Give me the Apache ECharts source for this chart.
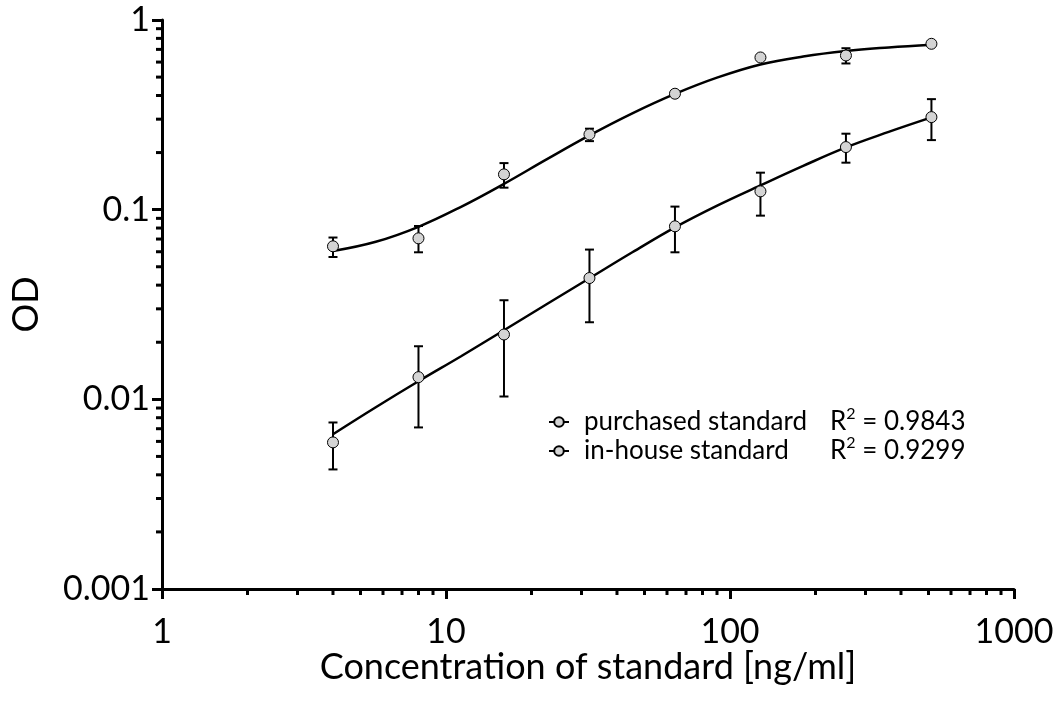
<!DOCTYPE html>
<html><head><meta charset="utf-8">
<script src="https://cdn.jsdelivr.net/npm/echarts@6/dist/echarts.min.js"></script>
<style>html,body{margin:0;padding:0;background:#fff}#c{width:1059px;height:706px}</style>
</head><body><div id="c"></div>
<script>
// ---- data ----
const concentrations = [4, 8, 16, 32, 64, 128, 256, 512];
const purchasedMean = [0.0641, 0.0706, 0.1535, 0.2493, 0.4086, 0.6345, 0.650, 0.749];
const purchasedLow  = [0.0563, 0.0596, 0.1306, 0.2298, 0.4000, 0.6200, 0.590, 0.740];
const purchasedHigh = [0.0713, 0.0820, 0.1760, 0.2673, 0.4150, 0.6450, 0.710, 0.758];
const inhouseMean = [0.00593, 0.01309, 0.02197, 0.0436, 0.0817, 0.1249, 0.2138, 0.3076];
const inhouseLow  = [0.00427, 0.00711, 0.01035, 0.02549, 0.0596, 0.0930, 0.1769, 0.2327];
const inhouseHigh = [0.00755, 0.01905, 0.0333, 0.0616, 0.1038, 0.1567, 0.2515, 0.3826];
const curveX = [4, 5.66, 8, 11.3, 16, 22.6, 32, 45.3, 64, 90.5, 128, 181, 256, 362, 512];
const purchasedFit = [0.0605, 0.0677, 0.0812, 0.1035, 0.1368, 0.1841, 0.2463, 0.3218, 0.4075, 0.4979, 0.5827, 0.6422, 0.6866, 0.7164, 0.7403];
const inhouseFit = [0.00655, 0.00909, 0.01246, 0.01688, 0.02313, 0.03171, 0.04348, 0.0596, 0.0807, 0.1054, 0.1343, 0.1702, 0.2130, 0.2570, 0.3064];
const seriesNames = ['purchased standard', 'in-house standard'];
const r2Values = ['0.9843', '0.9299'];
const xTickLabels = {1: '1', 10: '10', 100: '100', 1000: '1000'};
const yTickLabels = {0.001: '0.001', 0.01: '0.01', 0.1: '0.1', 1: '1'};
const xMinorTicks = [2,3,4,5,6,7,8,9,20,30,40,50,60,70,80,90,200,300,400,500,600,700,800,900];
const yMinorTicks = [0.002,0.003,0.004,0.005,0.006,0.007,0.008,0.009,0.02,0.03,0.04,0.05,0.06,0.07,0.08,0.09,0.2,0.3,0.4,0.5,0.6,0.7,0.8,0.9];
const xTitle = 'Concentration of standard [ng/ml]';
const yTitle = 'OD';

// ---- build ----
const FONT = 'Lato';
const zip = (a, b) => a.map((v, i) => [v, b[i]]);
const errData = (low, high) => concentrations.map((x, i) => [x, low[i], high[i]]);
const pointFill = '#d4d4d4';

function errorBarRender(params, api) {
  const x = api.value(0);
  const lo = api.coord([x, api.value(1)]);
  const hi = api.coord([x, api.value(2)]);
  const w = 4.5;
  const style = {stroke: '#000', lineWidth: 2, fill: null};
  return {type: 'group', children: [
    {type: 'line', shape: {x1: lo[0], y1: lo[1], x2: hi[0], y2: hi[1]}, style},
    {type: 'line', shape: {x1: lo[0]-w, y1: lo[1], x2: lo[0]+w, y2: lo[1]}, style},
    {type: 'line', shape: {x1: hi[0]-w, y1: hi[1], x2: hi[0]+w, y2: hi[1]}, style}
  ]};
}

const chart = echarts.init(document.getElementById('c'), null, {renderer: 'canvas'});
const option = {
  backgroundColor: '#fff',
  animation: false,
  grid: {left: 162, right: 45, top: 20, bottom: 117, containLabel: false},
  xAxis: {
    type: 'log', logBase: 10, min: 1, max: 1000,
    name: xTitle, nameLocation: 'middle', nameGap: 60, nameMoveOverlap: false,
    nameTextStyle: {fontFamily: FONT, fontSize: 36, color: '#000'},
    axisLine: {show: true, lineStyle: {color: '#000', width: 3}},
    axisTick: {show: true, inside: false, length: 10, lineStyle: {color: '#000', width: 3}},
    minorTick: {show: false},
    splitLine: {show: false},
    axisLabel: {fontFamily: FONT, fontSize: 34, color: '#000', margin: 26,
      formatter: v => xTickLabels[Math.round(v)] || ''}
  },
  yAxis: {
    type: 'log', logBase: 10, min: 0.001, max: 1,
    name: yTitle, nameLocation: 'middle', nameGap: 118, nameRotate: 90, nameMoveOverlap: false,
    nameTextStyle: {fontFamily: FONT, fontSize: 36, color: '#000'},
    axisLine: {show: true, lineStyle: {color: '#000', width: 3}},
    axisTick: {show: true, inside: false, length: 10, lineStyle: {color: '#000', width: 3}},
    splitLine: {show: false},
    axisLabel: {fontFamily: FONT, fontSize: 34, color: '#000', margin: 12,
      formatter: v => {
        for (const k in yTickLabels) { if (Math.abs(Math.log10(v) - Math.log10(+k)) < 1e-6) return yTickLabels[k]; }
        return '';
      }}
  },
  legend: {
    data: seriesNames,
    orient: 'vertical', left: 548, top: 406, itemGap: 0, padding: 0,
    itemWidth: 20, itemHeight: 12,
    textStyle: {fontFamily: FONT, fontSize: 26, color: '#000',
      rich: {
        a: {fontFamily: FONT, fontSize: 26, color: '#000', width: 246, lineHeight: 32, padding: [0, 0, 0, 10]},
        r: {fontFamily: FONT, fontSize: 26, color: '#000', lineHeight: 32},
        s: {fontFamily: FONT, fontSize: 16, color: '#000', lineHeight: 15, verticalAlign: 'top'}
      }},
    formatter: name => {
      const i = seriesNames.indexOf(name);
      return '{a|' + name + '}{r|R}{s|2}{r| = ' + r2Values[i] + '}';
    }
  },
  series: [
    {name: seriesNames[0], type: 'line', data: [], symbol: 'circle',
      itemStyle: {color: pointFill, borderColor: '#000', borderWidth: 1},
      lineStyle: {color: '#000', width: 1.5}},
    {name: seriesNames[1], type: 'line', data: [], symbol: 'circle',
      itemStyle: {color: pointFill, borderColor: '#000', borderWidth: 1},
      lineStyle: {color: '#000', width: 1.5}},
    {type: 'line', data: zip(curveX, purchasedFit), smooth: 0.4, showSymbol: false, silent: true,
      lineStyle: {color: '#000', width: 2.5}, z: 3},
    {type: 'line', data: zip(curveX, inhouseFit), smooth: 0.4, showSymbol: false, silent: true,
      lineStyle: {color: '#000', width: 2.5}, z: 3},
    {type: 'custom', data: errData(purchasedLow, purchasedHigh), renderItem: errorBarRender, silent: true, z: 4, clip: false},
    {type: 'custom', data: errData(inhouseLow, inhouseHigh), renderItem: errorBarRender, silent: true, z: 4, clip: false},
    {type: 'scatter', data: zip(concentrations, purchasedMean), symbol: 'circle', symbolSize: 11, silent: true,
      itemStyle: {color: pointFill, borderColor: '#000', borderWidth: 1, opacity: 1}, z: 5},
    {type: 'scatter', data: zip(concentrations, inhouseMean), symbol: 'circle', symbolSize: 11, silent: true,
      itemStyle: {color: pointFill, borderColor: '#000', borderWidth: 1, opacity: 1}, z: 5},
    {type: 'custom', data: xMinorTicks.map(v => [v, 0.001]), clip: false, silent: true, z: 6,
      renderItem: (p, api) => {
        const c = api.coord([api.value(0), 0.001]);
        return {type: 'line', shape: {x1: c[0], y1: c[1], x2: c[0], y2: c[1] + 6}, style: {stroke: '#000', lineWidth: 3}};
      }},
    {type: 'custom', data: yMinorTicks.map(v => [1, v]), clip: false, silent: true, z: 6,
      renderItem: (p, api) => {
        const c = api.coord([1, api.value(1)]);
        return {type: 'line', shape: {x1: c[0] - 6, y1: c[1], x2: c[0], y2: c[1]}, style: {stroke: '#000', lineWidth: 3}};
      }}
  ]
};
chart.setOption(option);
</script></body></html>
